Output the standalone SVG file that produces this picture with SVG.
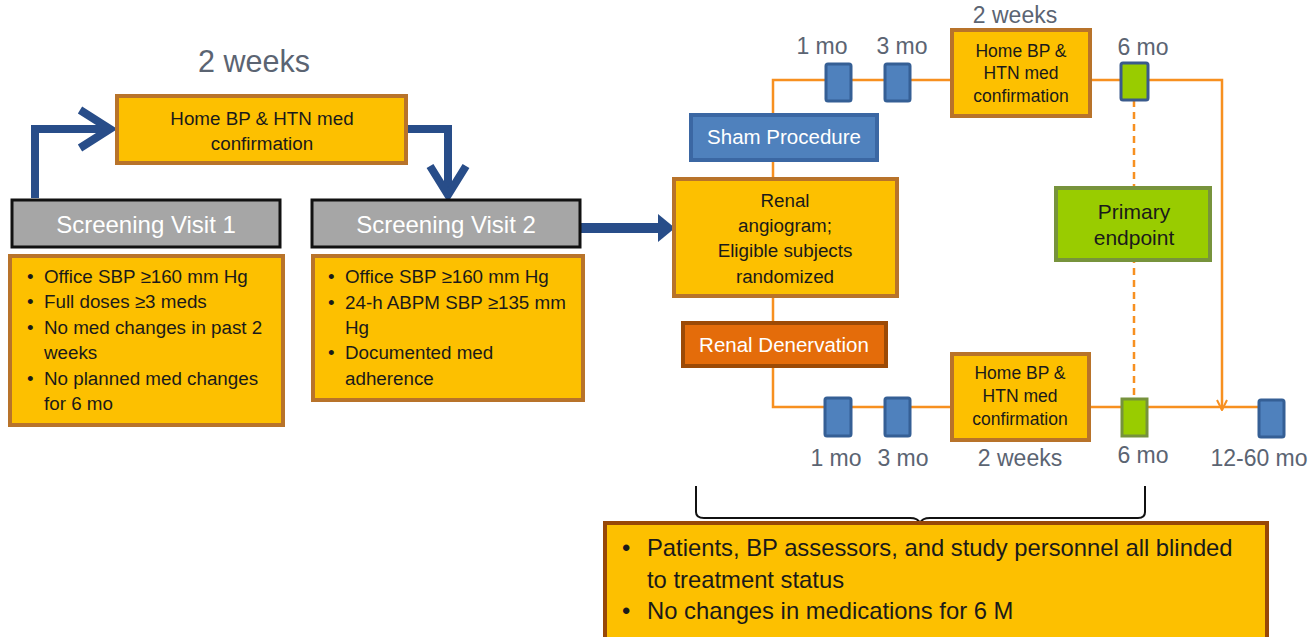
<svg xmlns="http://www.w3.org/2000/svg" width="1315" height="637" viewBox="0 0 1315 637">
<style>
text{font-family:"Liberation Sans",Arial,sans-serif;}
.y{fill:#fdc000;stroke:#b8732a;stroke-width:4}
.hd{fill:#a6a6a6;stroke:#111;stroke-width:3}
.hdt{fill:#fff;font-size:24px;text-anchor:middle}
.t{fill:#1a1a1a;font-size:18.8px}
.tc{fill:#1a1a1a;font-size:18.8px;text-anchor:middle}
.ts{fill:#1a1a1a;font-size:17.5px;text-anchor:middle}
.lab{fill:#5b6472;font-size:23px;text-anchor:middle}
.mk{fill:#4f81bd;stroke:#355f95;stroke-width:3}
.mg{fill:#99cc00;stroke:#3a5a8c;stroke-width:3}
.or{fill:none;stroke:#f79020;stroke-width:2.5}
.bl{fill:none;stroke:#284d89;stroke-width:8}
</style>
<defs>
<marker id="oa" viewBox="0 0 12 12" refX="11" refY="6" markerWidth="12" markerHeight="12" markerUnits="userSpaceOnUse" orient="auto"><path d="M1,1 L11,6 L1,11" fill="none" stroke="#f79020" stroke-width="2"/></marker>
</defs>

<g id="connectors">
<polyline class="bl" points="35,198 35,129 108,129"/>
<polyline class="bl" points="80,110 110,129 80,148"/>
<polyline class="bl" points="406,129 448,129 448,194"/>
<polyline class="bl" points="430,166 448,195 466,166"/>
<line x1="580" y1="228" x2="660" y2="228" stroke="#284d89" stroke-width="10"/>
<polygon points="658,214 675,228 658,242" fill="#284d89"/>
<polyline class="or" points="773,178 773,80 1222,80 1222,410" marker-end="url(#oa)"/>
<polyline class="or" points="773,296 773,407 1260,407"/>
<line x1="1134" y1="100" x2="1134" y2="398" stroke="#f79020" stroke-width="2.5" stroke-dasharray="7,5"/>
<path d="M696,486 L696,512 Q696,518 704,518 L910,518 Q918,518 920,523 Q922,518 930,518 L1138,518 Q1145,518 1145,512 L1145,486" fill="none" stroke="#111" stroke-width="2"/>
</g>

<g id="label-2weeks-left"><text x="254" y="72" style="fill:#5b6472;font-size:30.5px;text-anchor:middle">2 weeks</text></g>

<g id="home-bp-1">
<rect class="y" x="117" y="96" width="289" height="67"/>
<text class="tc" x="262" y="125">Home BP &amp; HTN med</text>
<text class="tc" x="262" y="150">confirmation</text>
</g>

<g id="screening-visit-1">
<rect class="hd" x="12" y="200" width="268" height="47"/>
<text class="hdt" x="146" y="233">Screening Visit 1</text>
</g>
<g id="sv1-criteria">
<rect class="y" x="10" y="256" width="273" height="169"/>
<g class="t">
<text x="27" y="283">•</text><text x="44" y="283">Office SBP ≥160 mm Hg</text>
<text x="27" y="308">•</text><text x="44" y="308">Full doses ≥3 meds</text>
<text x="27" y="334">•</text><text x="44" y="334">No med changes in past 2</text>
<text x="44" y="359">weeks</text>
<text x="27" y="385">•</text><text x="44" y="385">No planned med changes</text>
<text x="44" y="410">for 6 mo</text>
</g>
</g>

<g id="screening-visit-2">
<rect class="hd" x="312" y="200" width="268" height="47"/>
<text class="hdt" x="446" y="233">Screening Visit 2</text>
</g>
<g id="sv2-criteria">
<rect class="y" x="313" y="256" width="270" height="144"/>
<g class="t">
<text x="328" y="283">•</text><text x="345" y="283">Office SBP ≥160 mm Hg</text>
<text x="328" y="309">•</text><text x="345" y="309">24-h ABPM SBP ≥135 mm</text>
<text x="345" y="334">Hg</text>
<text x="328" y="359">•</text><text x="345" y="359">Documented med</text>
<text x="345" y="385">adherence</text>
</g>
</g>

<g id="renal-angiogram">
<rect class="y" x="674" y="179" width="223" height="117"/>
<text class="tc" x="785" y="207">Renal</text>
<text class="tc" x="785" y="232">angiogram;</text>
<text class="tc" x="785" y="257">Eligible subjects</text>
<text class="tc" x="785" y="283">randomized</text>
</g>

<g id="sham-procedure">
<rect x="691" y="115" width="186" height="45" fill="#4f81bd" stroke="#3b67a3" stroke-width="4"/>
<text x="784" y="144" style="fill:#fff;font-size:20.5px;text-anchor:middle">Sham Procedure</text>
</g>

<g id="renal-denervation">
<rect x="683" y="323" width="203" height="43" fill="#e46c0a" stroke="#9c4a06" stroke-width="4"/>
<text x="784" y="352" style="fill:#fff;font-size:20.5px;text-anchor:middle">Renal Denervation</text>
</g>

<g id="sham-1mo"><rect class="mk" x="826" y="64" width="25" height="37" rx="2"/><text class="lab" x="822" y="54">1 mo</text></g>
<g id="sham-3mo"><rect class="mk" x="885" y="64" width="25" height="37" rx="2"/><text class="lab" x="902" y="54">3 mo</text></g>
<g id="sham-home-bp">
<rect class="y" x="952" y="30" width="138" height="86"/>
<text class="lab" x="1015" y="23">2 weeks</text>
<text class="ts" x="1021" y="57">Home BP &amp;</text>
<text class="ts" x="1021" y="79">HTN med</text>
<text class="ts" x="1021" y="102">confirmation</text>
</g>
<g id="sham-6mo"><rect class="mg" x="1121" y="63" width="27" height="37" rx="2"/><text class="lab" x="1143" y="55">6 mo</text></g>

<g id="primary-endpoint">
<rect x="1056" y="188" width="154" height="72" fill="#99cc00" stroke="#77933c" stroke-width="4"/>
<text x="1134" y="219" style="fill:#1a1a1a;font-size:21px;text-anchor:middle">Primary</text>
<text x="1134" y="245" style="fill:#1a1a1a;font-size:21px;text-anchor:middle">endpoint</text>
</g>

<g id="rdn-1mo"><rect class="mk" x="825" y="398" width="26" height="38" rx="2"/><text class="lab" x="836" y="466">1 mo</text></g>
<g id="rdn-3mo"><rect class="mk" x="885" y="398" width="25" height="38" rx="2"/><text class="lab" x="903" y="466">3 mo</text></g>
<g id="rdn-home-bp">
<rect class="y" x="952" y="354" width="137" height="86"/>
<text class="ts" x="1020" y="379">Home BP &amp;</text>
<text class="ts" x="1020" y="402">HTN med</text>
<text class="ts" x="1020" y="425">confirmation</text>
<text class="lab" x="1020" y="466">2 weeks</text>
</g>
<g id="rdn-6mo"><rect x="1122" y="399" width="25" height="37" fill="#99cc00" stroke="#76923c" stroke-width="3"/><text class="lab" x="1143" y="463">6 mo</text></g>
<g id="rdn-12-60mo"><rect class="mk" x="1259" y="400" width="25" height="37" rx="2"/><text class="lab" x="1259" y="466">12-60 mo</text></g>

<g id="blinding-box">
<rect x="605" y="523" width="662" height="116" fill="#fdc000" stroke="#984807" stroke-width="4"/>
<g style="fill:#1a1a1a;font-size:23.8px">
<text x="622" y="556">•</text><text x="647" y="556">Patients, BP assessors, and study personnel all blinded</text>
<text x="647" y="588">to treatment status</text>
<text x="622" y="619">•</text><text x="647" y="619">No changes in medications for 6 M</text>
</g>
</g>
</svg>
